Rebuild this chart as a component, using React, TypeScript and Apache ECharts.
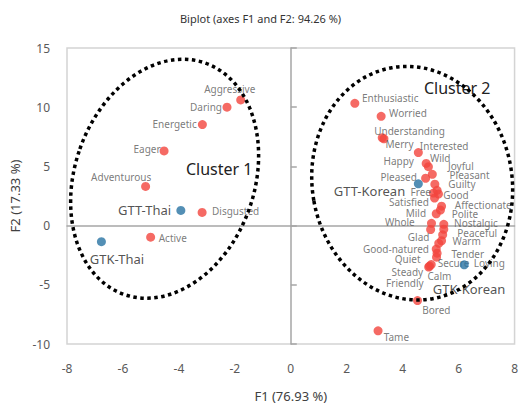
import React, { useEffect, useRef } from 'react';
import * as echarts from 'echarts';

// ---- data ----
const variableNames = [
  'Aggressive', 'Daring', 'Energetic', 'Eager', 'Adventurous', 'Disgusted', 'Active',
  'Enthusiastic', 'Worried', 'Understanding', 'Merry', 'Interested', 'Happy', 'Wild',
  'Joyful', 'Pleased', 'Pleasant', 'Guilty', 'Free', 'Good', 'Satisfied', 'Affectionate',
  'Polite', 'Mild', 'Whole', 'Nostalgic', 'Glad', 'Peaceful', 'Warm', 'Loving',
  'Good-natured', 'Tender', 'Quiet', 'Secure', 'Steady', 'Calm', 'Friendly', 'Bored', 'Tame',
];
const variableF1 = [
  -1.79, -2.28, -3.16, -4.53, -5.19, -3.17, -5.01,
  2.29, 3.23, 3.27, 3.33, 4.56, 4.84, 4.92,
  5.06, 4.82, 5.15, 5.23, 5.10, 5.28, 5.14, 5.39,
  5.35, 5.20, 5.03, 5.47, 5.00, 5.47, 5.43, 5.39,
  5.29, 5.20, 5.23, 5.21, 4.96, 5.02, 4.93, 4.53, 3.12,
];
const variableF2 = [
  10.61, 10.0, 8.53, 6.31, 3.31, 1.11, -0.98,
  10.33, 9.23, 7.42, 7.33, 6.17, 5.25, 4.98,
  4.33, 4.0, 3.5, 2.98, 2.75, 2.67, 2.33, 1.64,
  1.31, 1.0, 0.19, 0.11, -0.33, -0.31, -0.78, -1.28,
  -1.5, -1.98, -2.33, -2.67, -3.42, -3.29, -3.5, -6.33, -8.89,
];
const observationNames = ['GTT-Thai', 'GTK-Thai', 'GTT-Korean', 'GTK-Korean'];
const observationF1 = [-3.93, -6.77, 4.56, 6.2];
const observationF2 = [1.28, -1.36, 3.53, -3.31];

const xMin = -8, xMax = 8, xStep = 2;
const yMin = -10, yMax = 15, yStep = 5;

const titleText = 'Biplot (axes F1 and F2: 94.26 %)';
const xName = 'F1 (76.93 %)';
const yName = 'F2 (17.33 %)';

// cluster annotations (data units; tilt in degrees, + = counter-clockwise)
const clusterNames = ['Cluster 1', 'Cluster 2'];
const clusterCenterF1 = [-4.51, 4.34];
const clusterCenterF2 = [3.96, 3.58];
const clusterRadiusF1 = [3.21, 3.57];
const clusterRadiusF2 = [10.35, 9.9];
const clusterTilt = [-19.3, 10];
const clusterLabelF1 = [-2.56, 5.95];
const clusterLabelF2 = [4.77, 11.64];

// ---- label placement (pixel offsets of label centre from point centre) ----
const labelOffsets: Record<string, [number, number]> = {
  Aggressive: [-11, -11.4], Daring: [-21, -0.7], Energetic: [-27.8, -0.7], Eager: [-17, -2.3],
  Adventurous: [-24.4, -9], Disgusted: [33.5, -1.4], Active: [22.1, 1],
  Enthusiastic: [35.4, -5], Worried: [26.8, -3.3], Understanding: [27.3, -7], Merry: [15.6, 5],
  Interested: [25.8, -6.3], Happy: [-27.5, -2.3], Wild: [11.8, -9], Joyful: [28.6, -8.7],
  Pleased: [-27, -1.7], Pleasant: [34.7, -8.7], Guilty: [24.8, -6.3], Free: [-12.7, -1],
  Good: [17.5, 1.3], Satisfied: [-25.7, 4.3], Affectionate: [41.7, -1.6], Polite: [24.5, 3.7],
  Mild: [-20.4, -1], Whole: [-31.7, -1.7], Nostalgic: [32.2, -1.7], Glad: [-12, 7],
  Peaceful: [33.4, 3.3], Warm: [24, 6], Loving: [47.8, 22.4], 'Good-natured': [-42.8, 5.7],
  Tender: [31.5, 5], Quiet: [-29.5, 5.7], Secure: [17, 5.7], Steady: [-22.2, 6],
  Calm: [8.2, 11.8], Friendly: [-23.8, 15.7], Bored: [18.8, 9.3], Tame: [18.3, 6],
  'GTT-Thai': [-36.3, -0.4], 'GTK-Thai': [15.5, 17.4], 'GTT-Korean': [-48.9, 7.6],
  'GTK-Korean': [4.8, 24],
};

const FONT = '"Noto Sans", "Open Sans", sans-serif';

export default function App() {
  const ref = useRef<HTMLDivElement>(null);

  useEffect(() => {
    document.body.style.margin = '0';
    if (!ref.current) return;
    const chart = echarts.init(ref.current, undefined, { renderer: 'svg' });

    const axisLabel = { color: '#595959', fontSize: 12, fontFamily: FONT };
    const zeroLine = { color: '#a6a6a6', width: 1.5 };

    chart.setOption({
      animation: false,
      title: {
        text: titleText,
        left: 'center',
        top: 8,
        textStyle: { fontSize: 11, fontWeight: 'normal', color: '#333', fontFamily: FONT },
      },
      grid: {
        left: 67, right: 0, top: 48, bottom: 59,
        show: true, borderColor: '#d4d4d4', borderWidth: 1.5, backgroundColor: 'transparent',
      },
      xAxis: [
        {
          type: 'value', min: xMin, max: xMax, interval: xStep, position: 'bottom',
          axisLine: { show: false, onZero: false }, axisTick: { show: false },
          splitLine: { show: false },
          axisLabel: { ...axisLabel, margin: 18 },
          name: xName, nameLocation: 'middle', nameGap: 45,
          nameTextStyle: { color: '#404040', fontSize: 13, fontFamily: FONT },
        },
        {
          type: 'value', min: xMin, max: xMax, interval: xStep, position: 'top',
          axisLine: { show: true, onZero: true, onZeroAxisIndex: 0, lineStyle: zeroLine },
          axisTick: { show: false }, axisLabel: { show: false }, splitLine: { show: false },
        },
      ],
      yAxis: [
        {
          type: 'value', min: yMin, max: yMax, interval: yStep, position: 'left',
          axisLine: { show: false, onZero: false }, axisTick: { show: false },
          splitLine: { show: false },
          axisLabel: { ...axisLabel, margin: 17 },
          name: yName, nameLocation: 'middle', nameGap: 41,
          nameTextStyle: { color: '#404040', fontSize: 13, fontFamily: FONT },
        },
        {
          type: 'value', min: yMin, max: yMax, interval: yStep, position: 'right',
          axisLine: { show: true, onZero: true, onZeroAxisIndex: 0, lineStyle: zeroLine },
          axisTick: { show: true, length: 6, lineStyle: { color: '#a6a6a6', width: 1.5 } },
          axisLabel: { show: false }, splitLine: { show: false },
        },
      ],
      series: [
        {
          type: 'scatter', xAxisIndex: 0, yAxisIndex: 0, symbolSize: 9, z: 3,
          itemStyle: { color: '#f2453d' },
          label: {
            show: true, position: 'inside', formatter: '{b}', color: '#595959',
            fontSize: 10, fontFamily: FONT, textBorderWidth: 0,
          },
          data: variableNames.map((n, i) => ({
            name: n, value: [variableF1[i], variableF2[i]],
            label: { offset: labelOffsets[n] || [0, 0] },
          })),
        },
        {
          type: 'scatter', xAxisIndex: 0, yAxisIndex: 0, symbolSize: 9, z: 4,
          itemStyle: { color: '#2873a3' },
          label: {
            show: true, position: 'inside', formatter: '{b}', color: '#262626',
            fontSize: 13, fontFamily: FONT, textBorderWidth: 0,
          },
          data: observationNames.map((n, i) => ({
            name: n, value: [observationF1[i], observationF2[i]],
            label: { offset: labelOffsets[n] || [0, 0] },
          })),
        },
      ],
    });

    const toPx = (x: number, y: number) =>
      chart.convertToPixel({ gridIndex: 0 }, [x, y]) as number[];
    const o = toPx(0, 0);
    const sx = toPx(1, 0)[0] - o[0];
    const sy = o[1] - toPx(0, 1)[1];

    const graphic: any[] = [];
    clusterNames.forEach((name, i) => {
      const c = toPx(clusterCenterF1[i], clusterCenterF2[i]);
      const l = toPx(clusterLabelF1[i], clusterLabelF2[i]);
      graphic.push({
        type: 'text', x: l[0], y: l[1], z: 50, silent: true,
        style: {
          text: name, fill: '#222', fontSize: 16, fontFamily: FONT,
          align: 'center', verticalAlign: 'middle',
        },
      });
      graphic.push({
        type: 'ellipse', x: c[0], y: c[1], rotation: (clusterTilt[i] * Math.PI) / 180,
        z: 100, silent: true,
        shape: { cx: 0, cy: 0, rx: clusterRadiusF1[i] * sx, ry: clusterRadiusF2[i] * sy },
        style: { fill: 'none', stroke: '#000', lineWidth: 3.5, lineDash: [3.5, 3.5] },
      });
    });
    chart.setOption({ graphic });

    return () => chart.dispose();
  }, []);

  return <div ref={ref} style={{ width: 521, height: 407 }} />;
}
